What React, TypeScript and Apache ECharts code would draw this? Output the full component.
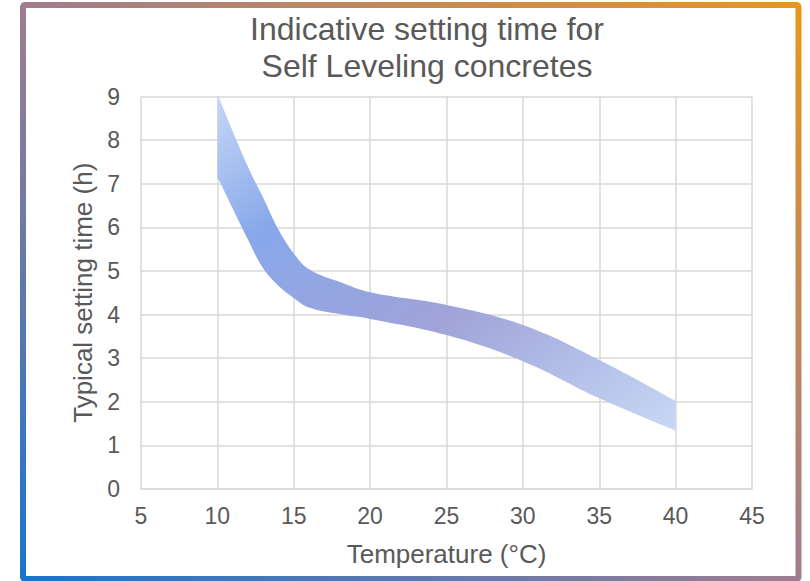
import React, { useEffect, useRef } from "react";
import * as echarts from "echarts";

const titleLines = ["Indicative setting time for", "Self Leveling concretes"];
const xAxisName = "Temperature (°C)";
const yAxisName = "Typical setting time (h)";

const temperatures = [10, 12, 13, 14, 15, 16, 18, 20, 25, 30, 35, 40];
const upperTime = [9.06, 7.39, 6.68, 5.95, 5.4, 5.04, 4.75, 4.51, 4.22, 3.76, 2.96, 2.02];
const lowerTime = [7.16, 5.72, 5.06, 4.66, 4.38, 4.16, 4.01, 3.9, 3.53, 2.93, 2.08, 1.34];

const xTicks = { min: 5, max: 45, interval: 5 };
const yTicks = { min: 0, max: 9, interval: 1 };

export default function App() {
  const ref = useRef<HTMLDivElement>(null);
  useEffect(() => {
    if (!ref.current) return;
    const chart = echarts.init(ref.current, null, { renderer: "svg" });
    const font = "'Liberation Sans', Arial, sans-serif";
    const textColor = "#595959";
    const gridColor = "#d9d9d9";
    // value first, temperature second, so stacking happens on the time values
    const lowerData = temperatures.map((t, i) => [lowerTime[i], t]);
    const bandData = temperatures.map((t, i) => [+(upperTime[i] - lowerTime[i]).toFixed(3), t]);
    chart.setOption({
      animation: false,
      backgroundColor: "#ffffff",
      grid: { left: 141, right: 58, top: 96.5, bottom: 92, containLabel: false },
      xAxis: {
        type: "value",
        min: xTicks.min,
        max: xTicks.max,
        interval: xTicks.interval,
        name: xAxisName,
        nameLocation: "middle",
        nameGap: 52,
        nameTextStyle: { color: textColor, fontSize: 26, fontFamily: font },
        axisLine: { show: true, lineStyle: { color: gridColor, width: 1.5 } },
        axisTick: { show: false },
        axisLabel: { color: textColor, fontSize: 23, fontFamily: font, margin: 15 },
        splitLine: { show: true, lineStyle: { color: gridColor, width: 1.5 } },
      },
      yAxis: {
        type: "value",
        min: yTicks.min,
        max: yTicks.max,
        interval: yTicks.interval,
        name: yAxisName,
        nameLocation: "middle",
        nameRotate: 90,
        nameGap: 42,
        nameTextStyle: { color: textColor, fontSize: 26, fontFamily: font },
        axisLine: { show: false },
        axisTick: { show: false },
        axisLabel: { color: textColor, fontSize: 23, fontFamily: font, margin: 21 },
        splitLine: { show: true, lineStyle: { color: gridColor, width: 1.5 } },
      },
      series: [
        {
          type: "line",
          name: "lower",
          data: lowerData,
          encode: { x: 1, y: 0 },
          stack: "band",
          smooth: 0.4,
          symbol: "none",
          lineStyle: { width: 0, opacity: 0 },
          silent: true,
        },
        {
          type: "line",
          name: "band",
          data: bandData,
          encode: { x: 1, y: 0 },
          stack: "band",
          smooth: 0.4,
          symbol: "none",
          lineStyle: { width: 0, opacity: 0 },
          areaStyle: {
            opacity: 1,
            color: {
              type: "linear",
              x: 0,
              y: 0,
              x2: 1,
              y2: 1,
              colorStops: [
                { offset: 0, color: "#c6d8f6" },
                { offset: 0.25, color: "#88a8ea" },
                { offset: 0.58, color: "#a0a3d8" },
                { offset: 1, color: "#c6d8f6" },
              ],
            },
          },
          silent: true,
        },
      ],
      graphic: [
        {
          type: "text",
          x: 427,
          y: 10,
          style: {
            text: titleLines.join("\n"),
            font: `32px ${font}`,
            fill: textColor,
            textAlign: "center",
            textVerticalAlign: "top",
            lineHeight: 37,
          },
        },
        {
          type: "rect",
          shape: { x: 23, y: 5, width: 775.5, height: 574, r: 2 },
          style: {
            fill: "none",
            lineWidth: 6,
            stroke: {
              type: "linear",
              x: 0,
              y: 1,
              x2: 1,
              y2: 0,
              colorStops: [
                { offset: 0, color: "#1a74cc" },
                { offset: 0.5, color: "#a07d8e" },
                { offset: 1, color: "#e8961a" },
              ],
            },
          },
        },
      ],
    });
    return () => chart.dispose();
  }, []);
  return (
    <div
      ref={ref}
      style={{ position: "absolute", left: 0, top: 0, width: 810, height: 581 }}
    />
  );
}
